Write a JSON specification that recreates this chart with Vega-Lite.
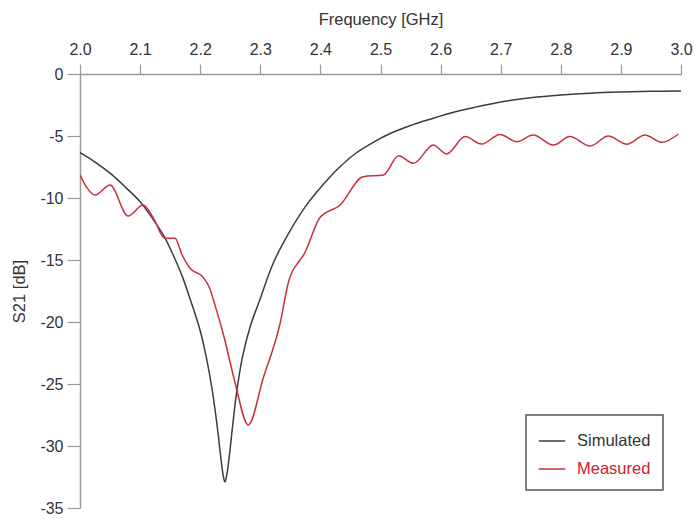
{
  "$schema": "https://vega.github.io/schema/vega-lite/v6.json",
  "width": 601,
  "height": 434,
  "autosize": "none",
  "padding": {"left": 80, "top": 74, "right": 14, "bottom": 11},
  "background": "white",
  "config": {
    "font": "Liberation Sans",
    "view": {"stroke": null},
    "axis": {
      "grid": false,
      "domainColor": "#9a9a9a",
      "tickColor": "#9a9a9a",
      "domainWidth": 1.5,
      "tickWidth": 1.2,
      "labelFont": "Liberation Sans",
      "titleFont": "Liberation Sans",
      "labelFontSize": 16,
      "titleFontSize": 16.5,
      "labelColor": "#333333",
      "titleColor": "#333333",
      "titleFontWeight": "normal"
    }
  },
  "data": {
    "values": [
      {"f": 2.0, "s21": -6.35, "series": "Simulated"},
      {"f": 2.025, "s21": -7.1, "series": "Simulated"},
      {"f": 2.05, "s21": -8.0, "series": "Simulated"},
      {"f": 2.075, "s21": -9.1, "series": "Simulated"},
      {"f": 2.1, "s21": -10.3, "series": "Simulated"},
      {"f": 2.12, "s21": -11.6, "series": "Simulated"},
      {"f": 2.14, "s21": -13.1, "series": "Simulated"},
      {"f": 2.155, "s21": -14.6, "series": "Simulated"},
      {"f": 2.17, "s21": -16.3, "series": "Simulated"},
      {"f": 2.185, "s21": -18.4, "series": "Simulated"},
      {"f": 2.2, "s21": -20.7, "series": "Simulated"},
      {"f": 2.21, "s21": -22.8, "series": "Simulated"},
      {"f": 2.22, "s21": -25.5, "series": "Simulated"},
      {"f": 2.228, "s21": -28.3, "series": "Simulated"},
      {"f": 2.234, "s21": -30.8, "series": "Simulated"},
      {"f": 2.238, "s21": -32.3, "series": "Simulated"},
      {"f": 2.241, "s21": -32.9, "series": "Simulated"},
      {"f": 2.244, "s21": -32.4, "series": "Simulated"},
      {"f": 2.248, "s21": -31.0, "series": "Simulated"},
      {"f": 2.253, "s21": -28.8, "series": "Simulated"},
      {"f": 2.26, "s21": -25.9, "series": "Simulated"},
      {"f": 2.27, "s21": -22.9, "series": "Simulated"},
      {"f": 2.283, "s21": -20.4, "series": "Simulated"},
      {"f": 2.3, "s21": -18.1, "series": "Simulated"},
      {"f": 2.322, "s21": -15.2, "series": "Simulated"},
      {"f": 2.349, "s21": -12.7, "series": "Simulated"},
      {"f": 2.375, "s21": -10.7, "series": "Simulated"},
      {"f": 2.405, "s21": -8.9, "series": "Simulated"},
      {"f": 2.43, "s21": -7.6, "series": "Simulated"},
      {"f": 2.46, "s21": -6.35, "series": "Simulated"},
      {"f": 2.49, "s21": -5.45, "series": "Simulated"},
      {"f": 2.516, "s21": -4.8, "series": "Simulated"},
      {"f": 2.55, "s21": -4.15, "series": "Simulated"},
      {"f": 2.582, "s21": -3.65, "series": "Simulated"},
      {"f": 2.62, "s21": -3.1, "series": "Simulated"},
      {"f": 2.66, "s21": -2.65, "series": "Simulated"},
      {"f": 2.7, "s21": -2.25, "series": "Simulated"},
      {"f": 2.75, "s21": -1.92, "series": "Simulated"},
      {"f": 2.8, "s21": -1.7, "series": "Simulated"},
      {"f": 2.85, "s21": -1.55, "series": "Simulated"},
      {"f": 2.9, "s21": -1.46, "series": "Simulated"},
      {"f": 2.95, "s21": -1.4, "series": "Simulated"},
      {"f": 3.0, "s21": -1.37, "series": "Simulated"},
      {"f": 2.0, "s21": -8.15, "series": "Measured"},
      {"f": 2.012, "s21": -9.2, "series": "Measured"},
      {"f": 2.025, "s21": -9.76, "series": "Measured"},
      {"f": 2.05, "s21": -8.95, "series": "Measured"},
      {"f": 2.08, "s21": -11.45, "series": "Measured"},
      {"f": 2.105, "s21": -10.56, "series": "Measured"},
      {"f": 2.122, "s21": -11.6, "series": "Measured"},
      {"f": 2.141, "s21": -13.25, "series": "Measured"},
      {"f": 2.158, "s21": -13.25, "series": "Measured"},
      {"f": 2.17, "s21": -14.6, "series": "Measured"},
      {"f": 2.183, "s21": -15.67, "series": "Measured"},
      {"f": 2.205, "s21": -16.4, "series": "Measured"},
      {"f": 2.215, "s21": -17.2, "series": "Measured"},
      {"f": 2.225, "s21": -18.7, "series": "Measured"},
      {"f": 2.241, "s21": -21.45, "series": "Measured"},
      {"f": 2.258, "s21": -24.9, "series": "Measured"},
      {"f": 2.28, "s21": -28.3, "series": "Measured"},
      {"f": 2.305, "s21": -24.5, "series": "Measured"},
      {"f": 2.333, "s21": -20.1, "series": "Measured"},
      {"f": 2.347, "s21": -16.75, "series": "Measured"},
      {"f": 2.366, "s21": -15.0, "series": "Measured"},
      {"f": 2.372, "s21": -14.6, "series": "Measured"},
      {"f": 2.399, "s21": -11.6, "series": "Measured"},
      {"f": 2.433, "s21": -10.56, "series": "Measured"},
      {"f": 2.471, "s21": -8.28, "series": "Measured"},
      {"f": 2.505, "s21": -8.15, "series": "Measured"},
      {"f": 2.53, "s21": -6.6, "series": "Measured"},
      {"f": 2.555, "s21": -7.2, "series": "Measured"},
      {"f": 2.588, "s21": -5.73, "series": "Measured"},
      {"f": 2.61, "s21": -6.45, "series": "Measured"},
      {"f": 2.641, "s21": -5.05, "series": "Measured"},
      {"f": 2.668, "s21": -5.65, "series": "Measured"},
      {"f": 2.699, "s21": -4.87, "series": "Measured"},
      {"f": 2.727, "s21": -5.46, "series": "Measured"},
      {"f": 2.754, "s21": -4.92, "series": "Measured"},
      {"f": 2.788, "s21": -5.73, "series": "Measured"},
      {"f": 2.815, "s21": -5.05, "series": "Measured"},
      {"f": 2.849, "s21": -5.8, "series": "Measured"},
      {"f": 2.879, "s21": -5.0, "series": "Measured"},
      {"f": 2.91, "s21": -5.67, "series": "Measured"},
      {"f": 2.94, "s21": -4.92, "series": "Measured"},
      {"f": 2.968, "s21": -5.51, "series": "Measured"},
      {"f": 2.996, "s21": -4.84, "series": "Measured"}
    ]
  },
  "encoding": {
    "x": {
      "field": "f",
      "type": "quantitative",
      "scale": {"domain": [2.0, 3.0], "nice": false, "zero": false},
      "axis": {
        "orient": "top",
        "title": "Frequency [GHz]",
        "values": [2.0, 2.1, 2.2, 2.3, 2.4, 2.5, 2.6, 2.7, 2.8, 2.9, 3.0],
        "format": ".1f",
        "tickSize": 10,
        "labelPadding": 7,
        "titlePadding": 14,
        "labelFlush": false
      }
    },
    "y": {
      "field": "s21",
      "type": "quantitative",
      "scale": {"domain": [-35, 0], "nice": false},
      "axis": {
        "title": "S21 [dB]",
        "values": [0, -5, -10, -15, -20, -25, -30, -35],
        "labelExpr": "replace(datum.label, '−', '-')",
        "tickSize": 13,
        "labelPadding": 4,
        "titlePadding": 12
      }
    },
    "color": {
      "field": "series",
      "type": "nominal",
      "sort": ["Simulated", "Measured"],
      "scale": {"domain": ["Simulated", "Measured"], "range": ["#3c3c3c", "#c9303e"]},
      "legend": {
        "title": null,
        "orient": "none",
        "legendX": 446,
        "legendY": 341,
        "symbolType": "stroke",
        "symbolSize": 700,
        "symbolStrokeWidth": 1.5,
        "labelFontSize": 16.5,
        "labelFont": "Liberation Sans",
        "labelOffset": 11,
        "rowPadding": 5,
        "padding": 12,
        "fillColor": "white",
        "strokeColor": "#555555",
        "encode": {
          "legend": {"update": {"strokeWidth": {"value": 1.5}}},
          "labels": {
            "update": {
              "fill": {"signal": "datum.label == 'Measured' ? '#d0202f' : '#333333'"}
            }
          }
        }
      }
    }
  },
  "layer": [
    {
      "transform": [{"filter": "datum.series == 'Simulated'"}],
      "mark": {"type": "line", "interpolate": "catmull-rom", "strokeWidth": 1.5, "clip": true}
    },
    {
      "transform": [{"filter": "datum.series == 'Measured'"}],
      "mark": {"type": "line", "interpolate": "monotone", "strokeWidth": 1.5, "clip": true}
    }
  ]
}
